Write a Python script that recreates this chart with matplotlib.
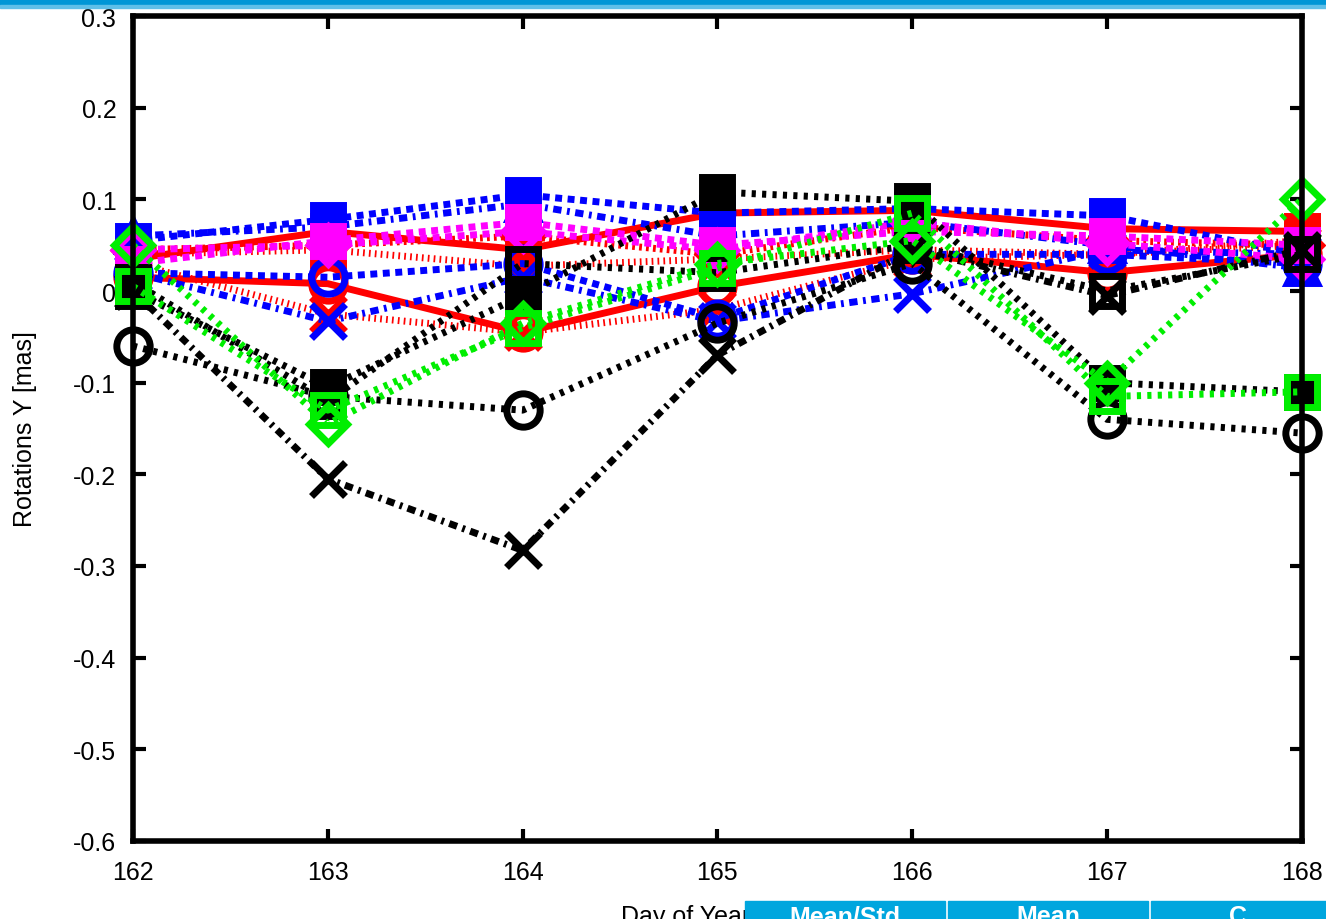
import matplotlib
matplotlib.use("Agg")
import matplotlib.pyplot as plt
from matplotlib.patches import Rectangle

plt.rcParams['font.family'] = ['Liberation Sans', 'DejaVu Sans']

days = [162, 163, 164, 165, 166, 167, 168]

# rotation Y estimates per solution [mas]
blk_circle = [-0.06, -0.115, -0.13, -0.035, 0.03, -0.14, -0.155]
blk_cross = [0.0, -0.205, -0.283, -0.07, 0.045, -0.005, 0.045]
blk_fsquare = [0.0, -0.105, -0.005, 0.108, 0.098, -0.10, -0.11]
blk_square = [0.01, -0.12, 0.03, 0.02, 0.05, 0.0, 0.04]
grn_square = [0.005, -0.13, -0.04, 0.025, 0.085, -0.115, -0.11]
grn_diamond = [0.05, -0.145, -0.035, 0.03, 0.055, -0.10, 0.10]
blu_fsquare = [0.055, 0.078, 0.105, 0.085, 0.09, 0.082, 0.04]
blu_cross = [0.02, -0.033, 0.015, -0.033, -0.003, 0.045, 0.04]
blu_circle = [0.02, 0.015, 0.03, -0.03, 0.04, 0.04, 0.03]
blu_triangle = [0.06, 0.07, 0.095, 0.06, 0.075, 0.05, 0.025]
red_circle = [0.015, 0.008, -0.045, 0.005, 0.04, 0.02, 0.04]
red_fsquare = [0.035, 0.065, 0.045, 0.085, 0.088, 0.068, 0.065]
red_cross = [0.03, -0.025, -0.045, -0.02, 0.035, 0.04, 0.05]
red_square = [0.04, 0.045, 0.027, 0.035, 0.045, 0.04, 0.055]
red_diamond = [0.045, 0.05, 0.06, 0.04, 0.07, 0.055, 0.05]
mag_fsquare = [0.03, 0.055, 0.075, 0.05, 0.065, 0.06, 0.05]
mag_diamond = [0.045, 0.05, 0.065, 0.045, 0.075, 0.052, 0.035]

RED, GRN, BLU, MAG, BLK = '#ff0000', '#00ee00', '#0000ff', '#ff00ff', '#000000'
dotted = (0, (0.6, 0.9))
fine = (0, (0.25, 0.6))
dashed = (0, (1.0, 0.8))
dashdot = (0, (1.2, 0.8, 0.4, 0.8))

series = [
    (red_cross, RED, 'x', fine, False),
    (red_square, RED, 's', fine, True),
    (red_circle, RED, 'o', '-', False),
    (red_fsquare, RED, 's', '-', True),
    (red_diamond, RED, 'D', (0, (0.4, 0.6)), False),
    (blu_circle, BLU, 'o', dashed, False),
    (blu_triangle, BLU, '^', dashdot, True),
    (blu_cross, BLU, 'x', dashdot, False),
    (blu_fsquare, BLU, 's', dashed, True),
    (mag_fsquare, MAG, 's', dashed, True),
    (mag_diamond, MAG, 'D', dashed, False),
    (blk_square, BLK, 's', dotted, False),
    (blk_fsquare, BLK, 's', dotted, True),
    (blk_cross, BLK, 'x', dashdot, False),
    (blk_circle, BLK, 'o', dotted, False),
    (grn_diamond, GRN, 'D', dotted, False),
    (grn_square, GRN, 's', dotted, False),
]

fig = plt.figure(figsize=(13.26, 9.2), dpi=100)
ax = fig.add_axes([0.1003, 0.0848, 0.8815, 0.8967])

for vals, col, mk, ls, filled in series:
    ms = 21 if mk in 's^' else (19 if mk == 'D' else 24)
    ax.plot(days, vals, color=col, lw=5, linestyle=ls, marker=mk,
            markersize=ms, markeredgewidth=5,
            markerfacecolor=col if filled else 'none',
            markeredgecolor=col, clip_on=False, zorder=3)

ax.set_xlim(162, 168)
ax.set_ylim(-0.6, 0.3)
ax.set_xticks(days)
ax.set_yticks([-0.6, -0.5, -0.4, -0.3, -0.2, -0.1, 0, 0.1, 0.2, 0.3])
ax.set_yticklabels(['-0.6', '-0.5', '-0.4', '-0.3', '-0.2', '-0.1', '0',
                    '0.1', '0.2', '0.3'])
ax.tick_params(direction='in', length=9, width=3, labelsize=18,
               top=True, right=True)
ax.tick_params(axis='x', pad=14)
ax.tick_params(axis='y', pad=12)
for sp in ax.spines.values():
    sp.set_linewidth(4)
    sp.set_zorder(4)
ax.set_ylabel('Rotations Y [mas]', fontsize=18, labelpad=26)
ax.set_xlabel('Day of Year 2018', fontsize=18, labelpad=14)

# page banner at the top and table header at the bottom
fig.patches.append(Rectangle((0, 0.9935), 1, 0.0065, transform=fig.transFigure,
                             color='#0096d6', zorder=10))
fig.patches.append(Rectangle((0, 0.990), 1, 0.0035, transform=fig.transFigure,
                             color='#5fbfe8', zorder=10))
cells = [(0.562, 0.713, 'Mean/Std'), (0.715, 0.866, 'Mean'), (0.868, 1.0, 'C')]
for x0, x1, txt in cells:
    fig.patches.append(Rectangle((x0, 0), x1 - x0, 0.0196, transform=fig.transFigure,
                                 color='#00a6de', zorder=10))
    fig.text((x0 + x1) / 2, -0.010, txt, color='white', fontsize=18,
             fontweight='bold', ha='center', va='bottom', zorder=11)

fig.savefig('out.png', dpi=100)
